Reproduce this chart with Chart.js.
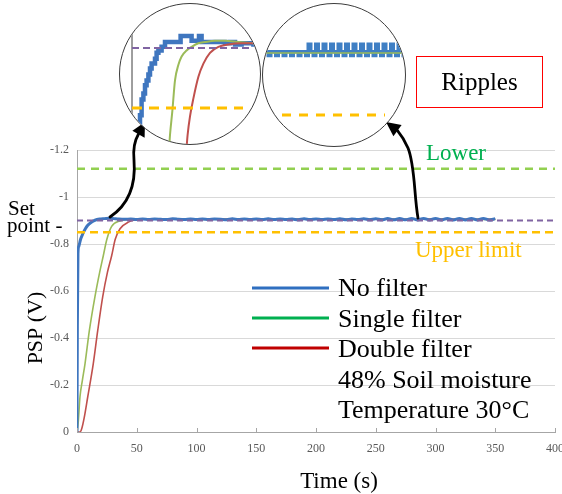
<!DOCTYPE html>
<html>
<head>
<meta charset="utf-8">
<script src="https://cdn.jsdelivr.net/npm/chart.js@4.4.1/dist/chart.umd.min.js"></script>
<style>
  body { margin: 0; background: #fff; }
  #wrap { position: relative; width: 562px; height: 494px; overflow: hidden; font-family: "Liberation Serif", serif; }
  #mainChart { position: absolute; left: 0; top: 0; }
  .lens { position: absolute; box-sizing: border-box; border: 1px solid #3c3c3c; border-radius: 50%; overflow: hidden; background: #fff; }
  .lens canvas { position: absolute; left: 0; top: 0; }
  #ripples { position: absolute; left: 416px; top: 56px; width: 127px; height: 52px; box-sizing: border-box;
    border: 1.5px solid #ff0000; font-size: 25px; line-height: 49px; text-align: center; color: #000; }
</style>
</head>
<body>
<div id="wrap">
  <canvas id="mainChart" width="562" height="494"></canvas>
  <div class="lens" style="left:119px;top:3px;width:142px;height:142px"><canvas id="riseChart" width="140" height="140"></canvas></div>
  <div class="lens" style="left:262px;top:3px;width:144px;height:144px"><canvas id="rippleChart" width="142" height="142"></canvas></div>
  <div id="ripples">Ripples</div>
</div>
<script>
// axis ticks (y listed bottom to top, the axis is reversed)
const xTickLabels = ['0', '50', '100', '150', '200', '250', '300', '350', '400'];
const yTickLabels = ['0', '-0.2', '-0.4', '-0.6', '-0.8', '-1', '-1.2'];

// reference levels (V)
const lowerLimit = -1.12;
const upperLimit = -0.85;
const setPoint = -0.9;

// main response curves, time (s) / PSP (V)
const noFilterT = [0, 0.3, 0.8, 1.5, 3, 5, 7, 9, 12, 15, 19, 23, 27, 31, 35,
  40, 45, 50, 55, 60, 65, 70, 75, 80, 85, 90, 95, 100, 105, 110, 115, 120, 125, 130, 135, 140, 145,
  150, 155, 160, 165, 170, 175, 180, 185, 190, 195, 200, 205, 210, 215, 220, 225, 230, 235, 240, 245,
  250, 255, 260, 265, 270, 275, 280, 285, 290, 295, 300, 305, 310, 315, 320, 325, 330, 335, 340, 345, 350];
const noFilterV = [0, -0.45, -0.76, -0.79, -0.82, -0.845, -0.865, -0.88, -0.893, -0.901, -0.906, -0.908, -0.91, -0.908, -0.906,
  -0.905, -0.906, -0.904, -0.906, -0.904, -0.906, -0.905, -0.904, -0.907, -0.905, -0.904, -0.906, -0.904, -0.906, -0.904, -0.906, -0.905, -0.903, -0.907, -0.904, -0.906, -0.904,
  -0.906, -0.904, -0.907, -0.904, -0.906, -0.904, -0.906, -0.903, -0.907, -0.904, -0.906, -0.904, -0.906, -0.904, -0.907, -0.903, -0.906, -0.904, -0.907, -0.903,
  -0.907, -0.903, -0.908, -0.903, -0.908, -0.903, -0.909, -0.902, -0.909, -0.902, -0.909, -0.902, -0.909, -0.902, -0.909, -0.902, -0.909, -0.902, -0.909, -0.902, -0.908];

const singleT = [0, 1, 2.5, 4.5, 6.7, 10.3, 15, 19, 22, 25, 29, 36, 45, 55, 70, 100, 150, 200, 250, 300, 350];
const singleV = [0, -0.04, -0.15, -0.22, -0.29, -0.43, -0.575, -0.68, -0.75, -0.82, -0.875, -0.898, -0.905, -0.907, -0.906, -0.905, -0.906, -0.905, -0.906, -0.905, -0.905];

const doubleT = [0, 2.5, 4, 6, 9, 13.6, 17.3, 21.5, 25.5, 29, 32, 36, 43, 53, 65, 100, 150, 200, 250, 300, 350];
const doubleV = [0, 0, -0.015, -0.06, -0.15, -0.29, -0.43, -0.575, -0.68, -0.75, -0.82, -0.865, -0.893, -0.905, -0.907, -0.906, -0.905, -0.906, -0.905, -0.906, -0.905];

// zoom lens 1: the rise
const riseBlueT = [3.5, 4, 4.8, 5.7, 6.5, 7.3, 8.2, 9, 9.8, 11.5, 12.3, 13.2, 14.8, 16.5, 24, 24.3, 29.5, 29.8, 33.2, 33.5, 34.5, 34.8, 46.5, 49, 51.5, 54.8, 60.7, 66];
const riseBlueV = [-0.83, -0.844, -0.857, -0.862, -0.869, -0.873, -0.878, -0.883, -0.887, -0.891, -0.896, -0.898, -0.901, -0.905, -0.905, -0.91, -0.91, -0.906, -0.906, -0.91, -0.91, -0.905, -0.904, -0.905, -0.903, -0.904, -0.903, -0.903];
const riseGreenT = [18.5, 19, 20.2, 21.5, 23.2, 24.8, 27.3, 29.8, 33.2, 36.5, 41.5, 46.5, 53.2, 60.7, 66];
const riseGreenV = [-0.815, -0.8275, -0.848, -0.873, -0.886, -0.893, -0.898, -0.901, -0.904, -0.905, -0.906, -0.906, -0.905, -0.904, -0.903];
const riseRedT = [27.2, 27.8, 29, 30.7, 33.2, 35.7, 39, 43.2, 48.2, 54.8, 60.7, 66];
const riseRedV = [-0.815, -0.8275, -0.843, -0.858, -0.876, -0.887, -0.896, -0.901, -0.903, -0.904, -0.904, -0.903];

// zoom lens 2: the ripples
const rippleT = [251, 252, 253, 254, 255, 256, 257, 258, 259, 260, 261, 262, 263, 264, 265, 266, 267, 268, 269, 270,
  271, 272, 273, 274, 275, 276, 277, 278, 279, 280, 281, 282, 283, 284, 285, 286, 287, 288, 289, 290,
  291, 292, 293, 294, 295, 296, 297, 298, 299, 300, 301, 302, 303, 304, 305, 306, 307, 308];
const rippleBlueV = [-0.901, -0.901, -0.898, -0.901, -0.901, -0.898, -0.901, -0.901, -0.898, -0.901, -0.901, -0.898, -0.901, -0.901, -0.898, -0.901, -0.901, -0.898, -0.907, -0.901,
  -0.898, -0.907, -0.901, -0.898, -0.907, -0.901, -0.898, -0.907, -0.901, -0.898, -0.907, -0.901, -0.898, -0.907, -0.901, -0.898, -0.907, -0.901, -0.898, -0.907,
  -0.901, -0.898, -0.907, -0.901, -0.898, -0.907, -0.901, -0.898, -0.907, -0.901, -0.898, -0.907, -0.901, -0.898, -0.907, -0.901, -0.898, -0.901];

const legendLabels = ['No filter', 'Single filter', 'Double filter', '48% Soil moisture', 'Temperature 30°C'];
const legendColors = ['#2f6fc0', '#00b050', '#c00000'];

function toPoints(xs, ys) {
  return xs.map((x, i) => ({ x: x, y: ys[i] }));
}

function flat(y, x0, x1) {
  return [{ x: x0, y: y }, { x: x1, y: y }];
}

const serif = '"Liberation Serif", "Times New Roman", serif';

const drawExtras = {
  id: 'drawExtras',
  afterDraw(chart) {
    const ctx = chart.ctx;
    const xs = chart.scales.x;
    const area = chart.chartArea;
    ctx.save();

    // small tick marks sitting on the time axis
    ctx.strokeStyle = '#a6a6a6';
    ctx.lineWidth = 1;
    xTickLabels.forEach(t => {
      const px = Math.round(xs.getPixelForValue(Number(t))) + 0.5;
      ctx.beginPath();
      ctx.moveTo(px, area.bottom);
      ctx.lineTo(px, area.bottom - 4);
      ctx.stroke();
    });

    // legend
    ctx.lineWidth = 3;
    legendColors.forEach((c, i) => {
      ctx.strokeStyle = c;
      ctx.beginPath();
      ctx.moveTo(252, 288 + i * 30);
      ctx.lineTo(329, 288 + i * 30);
      ctx.stroke();
    });
    ctx.fillStyle = '#000';
    ctx.font = '26px ' + serif;
    ctx.textBaseline = 'alphabetic';
    legendLabels.forEach((s, i) => ctx.fillText(s, 338, 296 + i * 30.5));

    // annotations
    ctx.font = '23px ' + serif;
    ctx.fillStyle = '#00b050';
    ctx.fillText('Lower', 426, 160);
    ctx.fillStyle = '#ffc000';
    ctx.fillText('Upper limit', 415, 257);
    ctx.fillStyle = '#000';
    ctx.font = '21px ' + serif;
    ctx.fillText('Set', 8, 215);
    ctx.fillText('point -', 7, 232);

    // axis titles
    ctx.font = '23px ' + serif;
    ctx.textAlign = 'center';
    ctx.fillText('Time (s)', 339, 488);
    ctx.save();
    ctx.translate(42, 328);
    ctx.rotate(-Math.PI / 2);
    ctx.font = '22px ' + serif;
    ctx.fillText('PSP (V)', 0, 0);
    ctx.restore();

    // arrows to the lenses
    ctx.strokeStyle = '#000';
    ctx.fillStyle = '#000';
    ctx.lineWidth = 2.8;
    ctx.lineCap = 'round';
    ctx.beginPath();
    ctx.moveTo(110, 217);
    ctx.bezierCurveTo(128, 205, 136, 185, 134, 160);
    ctx.bezierCurveTo(133, 150, 135, 140, 138.5, 134);
    ctx.stroke();
    ctx.beginPath();
    ctx.moveTo(145, 122);
    ctx.lineTo(144.6, 137.8);
    ctx.lineTo(132.4, 130.8);
    ctx.closePath();
    ctx.fill();

    ctx.beginPath();
    ctx.moveTo(418, 218);
    ctx.bezierCurveTo(414, 195, 415, 165, 408, 148);
    ctx.bezierCurveTo(405, 141, 402, 136, 397.5, 130.6);
    ctx.stroke();
    ctx.beginPath();
    ctx.moveTo(386, 122);
    ctx.lineTo(401.6, 124.9);
    ctx.lineTo(393.4, 136.3);
    ctx.closePath();
    ctx.fill();

    ctx.restore();
  }
};

const lineBase = { pointRadius: 0, fill: false };

new Chart(document.getElementById('mainChart'), {
  type: 'line',
  data: {
    datasets: [
      { ...lineBase, data: flat(upperLimit, 0, 400), borderColor: '#ffc000', borderWidth: 2.7, borderDash: [8, 5] },
      { ...lineBase, data: flat(setPoint, 0, 400), borderColor: '#8064a2', borderWidth: 1.8, borderDash: [6, 4] },
      { ...lineBase, data: flat(lowerLimit, 0, 400), borderColor: '#92d050', borderWidth: 2.4, borderDash: [8, 6] },
      { ...lineBase, data: toPoints(noFilterT, noFilterV), borderColor: '#3f76bf', borderWidth: 3, cubicInterpolationMode: 'monotone' },
      { ...lineBase, data: toPoints(doubleT, doubleV), borderColor: '#c0504d', borderWidth: 1.6, cubicInterpolationMode: 'monotone' },
      { ...lineBase, data: toPoints(singleT, singleV), borderColor: '#9bbb59', borderWidth: 1.6, cubicInterpolationMode: 'monotone' }
    ]
  },
  options: {
    responsive: false,
    animation: false,
    devicePixelRatio: 1,
    events: [],
    layout: { padding: { top: 150, right: 7, bottom: 0, left: 0 } },
    plugins: { legend: { display: false }, tooltip: { enabled: false } },
    scales: {
      x: {
        type: 'linear',
        min: 0,
        max: 400,
        afterFit(scale) { scale.height = 62; scale.paddingLeft = 0; scale.paddingRight = 0; },
        grid: { display: false, drawTicks: false },
        border: { display: true, color: '#a6a6a6', width: 1 },
        ticks: {
          stepSize: 50,
          autoSkip: false,
          maxRotation: 0,
          padding: 10,
          color: '#595959',
          font: { family: serif, size: 12 },
          callback: (v, i) => xTickLabels[i]
        }
      },
      y: {
        type: 'linear',
        min: -1.2,
        max: 0,
        reverse: true,
        afterFit(scale) { scale.width = 77; scale.paddingTop = 0; scale.paddingBottom = 0; },
        grid: { color: '#d9d9d9', lineWidth: 1, drawTicks: false },
        border: { display: true, color: '#a6a6a6', width: 1 },
        ticks: {
          stepSize: 0.2,
          padding: 8,
          color: '#595959',
          font: { family: serif, size: 12 },
          callback: (v, i) => yTickLabels[i]
        }
      }
    }
  },
  plugins: [drawExtras]
});

function lensOptions(xMin, xMax, yMin, yMax) {
  return {
    responsive: false,
    animation: false,
    devicePixelRatio: 1,
    events: [],
    layout: { padding: 0 },
    plugins: { legend: { display: false }, tooltip: { enabled: false } },
    scales: {
      x: { type: 'linear', display: false, min: xMin, max: xMax },
      y: { type: 'linear', display: false, min: yMin, max: yMax, reverse: true }
    }
  };
}

new Chart(document.getElementById('riseChart'), {
  type: 'line',
  data: {
    datasets: [
      { ...lineBase, data: flat(upperLimit, 0, 55.5), borderColor: '#ffc000', borderWidth: 3, borderDash: [10, 7] },
      { ...lineBase, data: flat(setPoint, 0, 60.5), borderColor: '#8064a2', borderWidth: 2, borderDash: [7, 4] },
      { ...lineBase, data: toPoints(riseRedT, riseRedV), borderColor: '#c0504d', borderWidth: 2, cubicInterpolationMode: 'monotone' },
      { ...lineBase, data: toPoints(riseGreenT, riseGreenV), borderColor: '#9bbb59', borderWidth: 2, cubicInterpolationMode: 'monotone' },
      { ...lineBase, data: toPoints(riseBlueT, riseBlueV), borderColor: '#3f76bf', borderWidth: 4.5, stepped: true },
      { ...lineBase, data: [{ x: 0, y: -0.95 }, { x: 0, y: -0.8 }], borderColor: '#909090', borderWidth: 1 }
    ]
  },
  options: lensOptions(-6, 64, -0.9367, -0.82)
});

new Chart(document.getElementById('rippleChart'), {
  type: 'line',
  data: {
    datasets: [
      { ...lineBase, data: flat(upperLimit, 258, 299.2), borderColor: '#ffc000', borderWidth: 3, borderDash: [9, 8] },
      { ...lineBase, data: flat(setPoint, 250, 310), borderColor: '#9bbb59', borderWidth: 1.5 },
      { ...lineBase, data: toPoints(rippleT, rippleBlueV), borderColor: '#3f7fc4', borderWidth: 3.5, stepped: 'middle' }
    ]
  },
  options: lensOptions(250.4, 307.2, -0.9395, -0.825)
});
</script>
</body>
</html>
